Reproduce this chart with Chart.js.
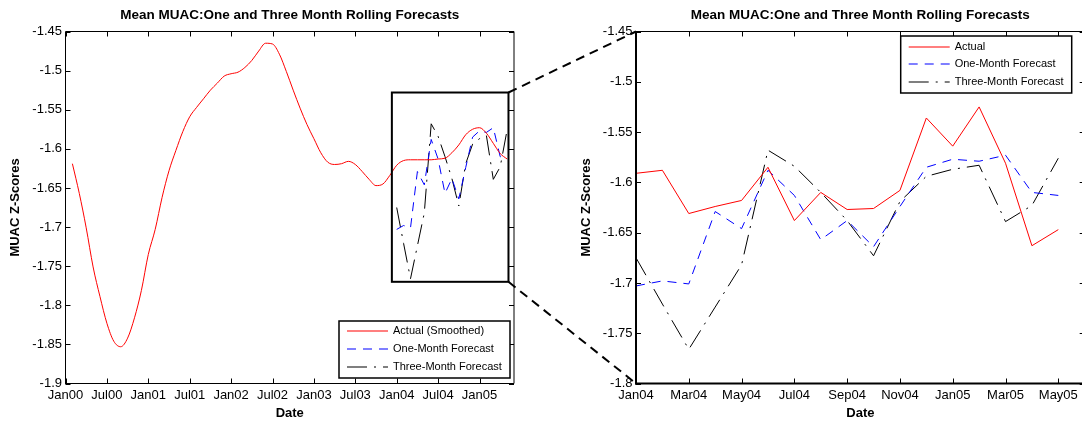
<!DOCTYPE html>
<html>
<head>
<meta charset="utf-8">
<script src="https://cdn.jsdelivr.net/npm/chart.js@4"></script>
<style>
  html, body { margin: 0; padding: 0; background: #fff; overflow: hidden; }
  #wrap { position: relative; width: 1082px; height: 424px; overflow: hidden; }
  #leftChart { position: absolute; left: 0; top: 0; }
  #rightChart { position: absolute; left: 480px; top: 0; }
</style>
</head>
<body>
<div id="wrap">
  <canvas id="leftChart" width="550" height="424"></canvas>
  <canvas id="rightChart" width="610" height="424"></canvas>
</div>
<script>
const FONT = "'Liberation Sans', Arial, sans-serif";
const TITLE = 'Mean MUAC:One and Three Month Rolling Forecasts';

// smoothed actual, left panel (Feb00 .. May05)
const smoothMonths = [
  'Feb00','Mar00','Apr00','May00','Jun00','Jul00','Aug00','Sep00','Oct00','Nov00','Dec00',
  'Jan01','Feb01','Mar01','Apr01','May01','Jun01','Jul01','Aug01','Sep01','Oct01','Nov01','Dec01',
  'Jan02','Feb02','Mar02','Apr02','May02','Jun02','Jul02','Aug02','Sep02','Oct02','Nov02','Dec02',
  'Jan03','Feb03','Mar03','Apr03','May03','Jun03','Jul03','Aug03','Sep03','Oct03','Nov03','Dec03',
  'Jan04','Feb04','Mar04','Apr04','May04','Jun04','Jul04','Aug04','Sep04','Oct04','Nov04','Dec04',
  'Jan05','Feb05','Mar05','Apr05','May05'
];
const smoothValues = [
  -1.619, -1.657, -1.701, -1.751, -1.789, -1.823, -1.846, -1.853, -1.842, -1.816, -1.781,
  -1.735, -1.703, -1.662, -1.628, -1.602, -1.578, -1.559, -1.547, -1.536, -1.525, -1.516, -1.507,
  -1.504, -1.502, -1.496, -1.487, -1.475, -1.465, -1.466, -1.479, -1.501, -1.525, -1.548, -1.569,
  -1.587, -1.605, -1.617, -1.620, -1.619, -1.616, -1.620, -1.629, -1.639, -1.647, -1.645, -1.634,
  -1.621, -1.615, -1.614, -1.614, -1.614, -1.614, -1.613, -1.612, -1.605, -1.595, -1.582, -1.575,
  -1.573, -1.580, -1.593, -1.606, -1.613
];

// monthly actual and rolling forecasts (Jan04 .. May05)
const forecastMonths = ['Jan04','Feb04','Mar04','Apr04','May04','Jun04','Jul04','Aug04','Sep04',
  'Oct04','Nov04','Dec04','Jan05','Feb05','Mar05','Apr05','May05'];
const actualValues = [-1.591, -1.588, -1.631, -1.624, -1.618, -1.585, -1.638, -1.610, -1.627,
  -1.626, -1.608, -1.536, -1.564, -1.525, -1.581, -1.663, -1.647];
const oneMonthValues = [-1.703, -1.698, -1.701, -1.629, -1.646, -1.588, -1.613, -1.657, -1.638,
  -1.664, -1.624, -1.585, -1.577, -1.579, -1.573, -1.610, -1.613];
const threeMonthValues = [-1.675, -1.721, -1.766, -1.724, -1.682, -1.568, -1.584, -1.610, -1.638,
  -1.673, -1.619, -1.594, -1.587, -1.583, -1.639, -1.623, -1.576];

// tick labels
const leftXTicks = ['Jan00','Jul00','Jan01','Jul01','Jan02','Jul02','Jan03','Jul03','Jan04','Jul04','Jan05'];
const rightXTicks = ['Jan04','Mar04','May04','Jul04','Sep04','Nov04','Jan05','Mar05','May05'];
const leftYTicks = [-1.9, -1.85, -1.8, -1.75, -1.7, -1.65, -1.6, -1.55, -1.5, -1.45];
const rightYTicks = [-1.8, -1.75, -1.7, -1.65, -1.6, -1.55, -1.5, -1.45];

// zoomed window marked on the left panel (months from Jan00, z-score)
const zoomBox = { x0: 47.3, x1: 64.2, yTop: -1.528, yBottom: -1.770 };

const MONTHS = ['Jan','Feb','Mar','Apr','May','Jun','Jul','Aug','Sep','Oct','Nov','Dec'];
const monthIndex = (label) => MONTHS.indexOf(label.slice(0, 3)) + 12 * parseInt(label.slice(3), 10);
const toPoints = (months, values) => months.map((m, i) => ({ x: monthIndex(m), y: values[i] }));

const tickFont = { family: FONT, size: 13 };
const boldFont = { family: FONT, size: 13, weight: 'bold' };

const RED = '#ff0000', BLUE = '#0000ff', BLACK = '#000000';
const BLUE_DASH = [9, 7];
const BLACK_DASH = [20, 7, 2, 7];

// MATLAB style box with inward ticks on every side
const matlabAxes = {
  id: 'matlabAxes',
  afterDatasetsDraw(chart, args, opts) {
    const { ctx, chartArea: { left, right, top, bottom }, scales: { x, y } } = chart;
    const len = 5;
    ctx.save();
    ctx.strokeStyle = '#000';
    ctx.lineWidth = 1;
    ctx.beginPath();
    x.ticks.forEach((t) => {
      const px = Math.round(x.getPixelForValue(t.value)) + 0.5;
      ctx.moveTo(px, bottom); ctx.lineTo(px, bottom - len);
      ctx.moveTo(px, top); ctx.lineTo(px, top + len);
    });
    y.ticks.forEach((t) => {
      const py = Math.round(y.getPixelForValue(t.value)) + 0.5;
      ctx.moveTo(left, py); ctx.lineTo(left + len, py);
      ctx.moveTo(right, py); ctx.lineTo(right - len, py);
    });
    ctx.stroke();
    const side = (lw, x1, y1, x2, y2) => {
      ctx.lineWidth = lw;
      ctx.beginPath(); ctx.moveTo(x1, y1); ctx.lineTo(x2, y2); ctx.stroke();
    };
    const w = opts.widths;
    side(w.top, left, top, right, top);
    side(w.right, right, top, right, bottom);
    side(w.bottom, left - w.left / 2, bottom, right, bottom);
    side(w.left, left, top, left, bottom + w.bottom / 2);
    ctx.restore();
  }
};

// rectangle showing the zoomed region
const zoomRect = {
  id: 'zoomRect',
  afterDatasetsDraw(chart, args, opts) {
    if (!opts.show) return;
    const { ctx, scales: { x, y } } = chart;
    const x0 = x.getPixelForValue(zoomBox.x0), x1 = x.getPixelForValue(zoomBox.x1);
    const y0 = y.getPixelForValue(zoomBox.yTop), y1 = y.getPixelForValue(zoomBox.yBottom);
    ctx.save();
    ctx.strokeStyle = '#000';
    ctx.lineWidth = 2;
    ctx.strokeRect(x0, y0, x1 - x0, y1 - y0);
    ctx.restore();
  }
};

// legend box drawn inside the plot area
const boxLegend = {
  id: 'boxLegend',
  afterDraw(chart, args, o) {
    const { ctx, chartArea } = chart;
    const bx = chartArea.right - o.right - o.width;
    const by = o.top != null ? chartArea.top + o.top : chartArea.bottom - o.bottom - o.height;
    ctx.save();
    ctx.fillStyle = '#fff';
    ctx.fillRect(bx, by, o.width, o.height);
    ctx.lineWidth = 1.5;
    ctx.strokeStyle = '#000';
    ctx.strokeRect(bx, by, o.width, o.height);
    ctx.font = `11px ${FONT}`;
    ctx.textBaseline = 'middle';
    ctx.textAlign = 'left';
    chart.data.datasets.forEach((ds, i) => {
      const ry = Math.round(by + o.firstRow + i * o.rowStep);
      ctx.save();
      ctx.beginPath();
      ctx.strokeStyle = ds.borderColor;
      ctx.lineWidth = 1.2;
      ctx.setLineDash(ds.borderDash || []);
      ctx.moveTo(bx + 8, ry);
      ctx.lineTo(bx + 49, ry);
      ctx.stroke();
      ctx.restore();
      ctx.fillStyle = '#000';
      ctx.fillText(ds.label, bx + 54, ry);
    });
    ctx.restore();
  }
};

const makeScales = (xMin, xMax, xTicks, yTicks, yWidth, yTitlePad) => ({
  x: {
    type: 'linear',
    min: monthIndex(xMin),
    max: monthIndex(xMax),
    afterBuildTicks: (scale) => { scale.ticks = xTicks.map((l) => ({ value: monthIndex(l) })); },
    afterFit: (scale) => { scale.height = 40.5; },
    grid: { display: false, drawTicks: false },
    border: { display: false },
    ticks: { font: tickFont, color: '#000', padding: 4, maxRotation: 0, autoSkip: false,
      callback: (v, i) => xTicks[i] },
    title: { display: true, text: 'Date', font: boldFont, color: '#000', padding: { top: 0, bottom: 3.2 } }
  },
  y: {
    type: 'linear',
    min: Math.min(...yTicks),
    max: Math.max(...yTicks),
    afterBuildTicks: (scale) => { scale.ticks = yTicks.map((v) => ({ value: v })); },
    afterFit: (scale) => { scale.width = yWidth; },
    grid: { display: false, drawTicks: false },
    border: { display: false },
    ticks: { font: tickFont, color: '#000', padding: 3.5, callback: (v) => String(v) },
    title: { display: true, text: 'MUAC Z-Scores', font: boldFont, color: '#000', padding: { top: yTitlePad, bottom: 0 } }
  }
});

const lineStyle = {
  red: { borderColor: RED, borderWidth: 1, pointRadius: 0 },
  blue: { borderColor: BLUE, borderWidth: 1, pointRadius: 0, borderDash: BLUE_DASH },
  black: { borderColor: BLACK, borderWidth: 1, pointRadius: 0, borderDash: BLACK_DASH }
};

const titleOpts = {
  display: true, text: TITLE, color: '#000', fullSize: false,
  font: { family: FONT, size: 13.5, weight: 'bold' },
  padding: { top: 6.9, bottom: 8.4 }
};

const leftChart = new Chart(document.getElementById('leftChart'), {
  type: 'line',
  data: {
    datasets: [
      { ...lineStyle.red, label: 'Actual (Smoothed)', data: toPoints(smoothMonths, smoothValues), cubicInterpolationMode: 'monotone' },
      { ...lineStyle.blue, label: 'One-Month Forecast', data: toPoints(forecastMonths, oneMonthValues) },
      { ...lineStyle.black, label: 'Three-Month Forecast', data: toPoints(forecastMonths, threeMonthValues) }
    ]
  },
  options: {
    responsive: false,
    animation: false,
    events: [],
    layout: { padding: { left: 0, right: 36, top: 0, bottom: 0 } },
    scales: makeScales('Jan00', 'Jun05', leftXTicks, leftYTicks, 65.5, 7.7),
    plugins: {
      legend: { display: false },
      tooltip: { enabled: false },
      title: titleOpts,
      matlabAxes: { widths: { top: 1, right: 1, bottom: 1, left: 1 } },
      zoomRect: { show: true },
      boxLegend: { right: 4, bottom: 5.5, width: 171, height: 57, firstRow: 10, rowStep: 18 }
    }
  },
  plugins: [matlabAxes, zoomRect, boxLegend]
});

// dashed lines joining the zoom box to the right panel
const zoomLinks = {
  id: 'zoomLinks',
  afterDraw(chart) {
    const { ctx, chartArea: { left, top, bottom } } = chart;
    const shift = leftChart.canvas.offsetLeft - chart.canvas.offsetLeft;
    const bx = leftChart.scales.x.getPixelForValue(zoomBox.x1) + shift;
    const byTop = leftChart.scales.y.getPixelForValue(zoomBox.yTop);
    const byBot = leftChart.scales.y.getPixelForValue(zoomBox.yBottom);
    ctx.save();
    ctx.strokeStyle = '#000';
    ctx.lineWidth = 2;
    ctx.setLineDash([9, 6]);
    ctx.beginPath();
    ctx.moveTo(bx, byTop); ctx.lineTo(left, top);
    ctx.moveTo(bx, byBot); ctx.lineTo(left, bottom);
    ctx.stroke();
    ctx.restore();
  }
};

new Chart(document.getElementById('rightChart'), {
  type: 'line',
  data: {
    datasets: [
      { ...lineStyle.red, label: 'Actual', data: toPoints(forecastMonths, actualValues) },
      { ...lineStyle.blue, label: 'One-Month Forecast', data: toPoints(forecastMonths, oneMonthValues) },
      { ...lineStyle.black, label: 'Three-Month Forecast', data: toPoints(forecastMonths, threeMonthValues) }
    ]
  },
  options: {
    responsive: false,
    animation: false,
    events: [],
    layout: { padding: { left: 70, right: 5.3, top: 0, bottom: 0 } },
    scales: makeScales('Jan04', 'Jun05', rightXTicks, rightYTicks, 86, 28.9),
    plugins: {
      legend: { display: false },
      tooltip: { enabled: false },
      title: titleOpts,
      matlabAxes: { widths: { top: 1, right: 1, bottom: 2, left: 2 } },
      zoomRect: { show: false },
      boxLegend: { right: 13, top: 4.5, width: 171, height: 57, firstRow: 11, rowStep: 17.4 }
    }
  },
  plugins: [matlabAxes, zoomRect, boxLegend, zoomLinks]
});
</script>
</body>
</html>
